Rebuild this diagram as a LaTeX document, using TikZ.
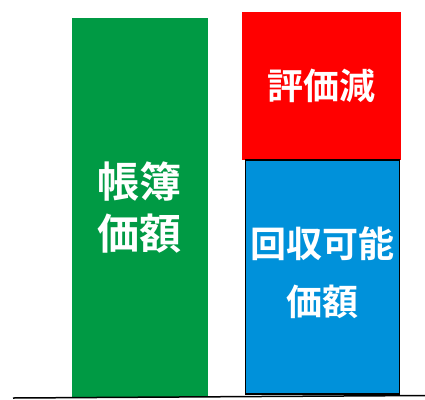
\documentclass[tikz,border=0pt]{standalone}
\usepackage{fontspec}
\newfontfamily\cjk{Noto Sans CJK JP}[BoldFont={* Bold}]
\definecolor{bookgreen}{HTML}{009A44}
\definecolor{lossred}{HTML}{FF0000}
\definecolor{recblue}{HTML}{0091DA}
\begin{document}
\begin{tikzpicture}[x=1pt,y=-1pt,
  lbl/.style={text=white,font=\cjk\bfseries,inner sep=0pt,align=center}]
\useasboundingbox (0,0) rectangle (425,399);
\fill[bookgreen] (72,18) rectangle (208,397);
\fill[lossred] (242,12) rectangle (401,160);
\filldraw[fill=recblue,draw=black,line width=1.5pt] (245.7,160) rectangle (399.3,394);
\coordinate (bl) at (13,398);
\coordinate (br) at (425,395.5);
\draw[line width=1.5pt] (bl) -- (br);
\node[lbl,font=\cjk\bfseries\fontsize{42}{52}\selectfont] (book) at (139,208) {帳簿\\価額};
\node[lbl,font=\cjk\bfseries\fontsize{36}{40}\selectfont] (loss) at (321,86) {評価減};
\node[lbl,font=\cjk\bfseries\fontsize{36}{40}\selectfont] (rec1) at (322,244) {回収可能};
\node[lbl,font=\cjk\bfseries\fontsize{36}{40}\selectfont] (rec2) at (322,302) {価額};
\end{tikzpicture}
\end{document}
